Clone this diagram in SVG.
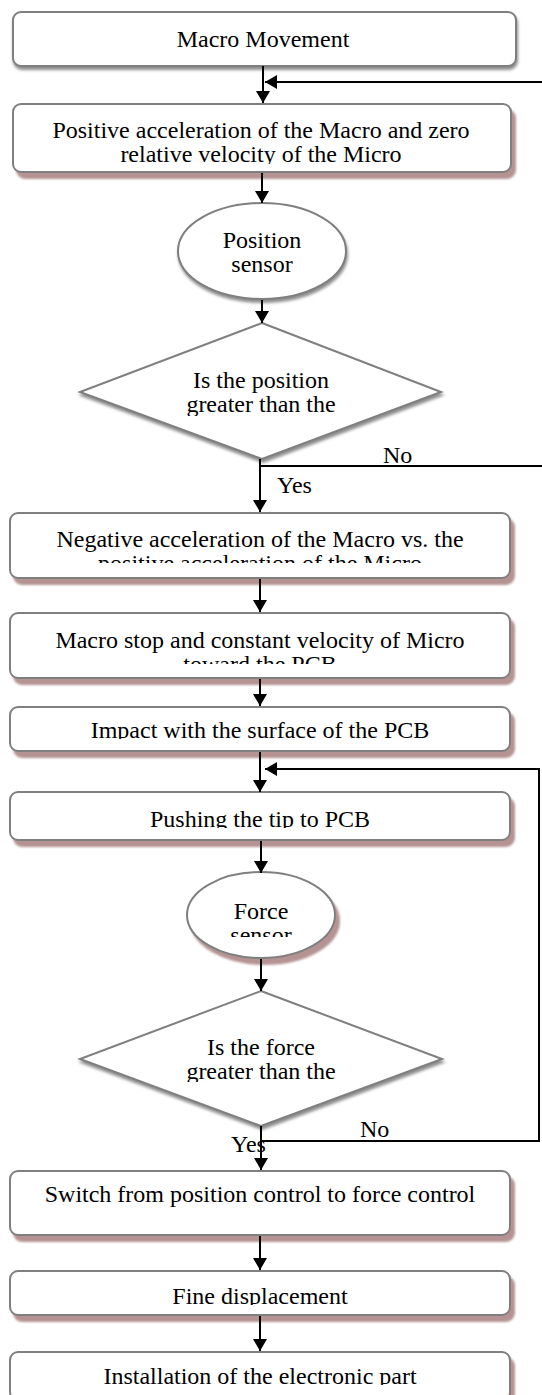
<svg xmlns="http://www.w3.org/2000/svg" width="542" height="1395" viewBox="0 0 542 1395">
<style>
.box{fill:#fff;stroke:#7f7f7f;stroke-width:2}
.t{font-family:"Liberation Serif","Times New Roman",serif;font-size:24px;fill:#000;text-anchor:middle}
.lbl{font-family:"Liberation Serif","Times New Roman",serif;font-size:24px;fill:#000}
.c{fill:none;stroke:#000;stroke-width:2}
</style>
<defs>
<filter id="sg" x="-10%" y="-20%" width="125%" height="150%">
<feDropShadow dx="1" dy="3" stdDeviation="1.5" flood-color="#808080" flood-opacity="0.9"/>
</filter>
<filter id="sr" x="-10%" y="-20%" width="125%" height="150%">
<feDropShadow dx="4" dy="6" stdDeviation="1" flood-color="#a88080" flood-opacity="0.85"/>
</filter>
<marker id="ah" markerUnits="userSpaceOnUse" markerWidth="13" markerHeight="14" refX="12" refY="7" orient="auto">
<path d="M0,0 L12,7 L0,14 z" fill="#000"/>
</marker>
<clipPath id="c2"><rect x="13" y="104" width="498" height="60"/></clipPath>
<clipPath id="c3"><rect x="10" y="513" width="500" height="50"/></clipPath>
<clipPath id="c4"><rect x="10" y="613" width="500" height="51"/></clipPath>
<clipPath id="c5"><rect x="10" y="707" width="500" height="32"/></clipPath>
<clipPath id="c6"><rect x="10" y="792" width="500" height="36"/></clipPath>
<clipPath id="ce2"><rect x="180" y="873" width="160" height="64"/></clipPath>
<clipPath id="cd1"><rect x="80" y="323" width="361" height="93"/></clipPath>
<clipPath id="cd2"><rect x="80" y="991" width="362" height="91"/></clipPath>
<clipPath id="c8"><rect x="10" y="1271" width="500" height="34"/></clipPath>
<clipPath id="c9"><rect x="10" y="1352" width="500" height="33"/></clipPath>
</defs>

<g id="n1">
<rect class="box" x="13" y="12" width="503" height="54" rx="8" filter="url(#sg)"/>
<text class="t" x="263" y="47">Macro Movement</text>
</g>
<g id="n2">
<rect class="box" x="13" y="104" width="498" height="68" rx="8" filter="url(#sr)"/>
<text class="t" clip-path="url(#c2)"><tspan x="261" y="138">Positive acceleration of the Macro and zero</tspan><tspan x="261" y="162">relative velocity of the Micro</tspan></text>
</g>
<g id="n3">
<ellipse class="box" cx="262" cy="251" rx="84" ry="48" filter="url(#sg)"/>
<text class="t"><tspan x="262" y="248">Position</tspan><tspan x="262" y="272">sensor</tspan></text>
</g>
<g id="n4">
<polygon class="box" points="262,323 441,392 262,459 80,392" filter="url(#sg)"/>
<text class="t" clip-path="url(#cd1)"><tspan x="261" y="388">Is the position</tspan><tspan x="261" y="412">greater than the</tspan></text>
</g>
<g id="n5">
<rect class="box" x="10" y="513" width="500" height="65" rx="8" filter="url(#sr)"/>
<text class="t" clip-path="url(#c3)"><tspan x="260" y="547">Negative acceleration of the Macro vs. the</tspan><tspan x="260" y="571">positive acceleration of the Micro</tspan></text>
</g>
<g id="n6">
<rect class="box" x="10" y="613" width="500" height="65" rx="8" filter="url(#sr)"/>
<text class="t" clip-path="url(#c4)"><tspan x="260" y="648">Macro stop and constant velocity of Micro</tspan><tspan x="260" y="672">toward the PCB</tspan></text>
</g>
<g id="n7">
<rect class="box" x="10" y="707" width="500" height="44" rx="8" filter="url(#sr)"/>
<text class="t" x="260" y="738" clip-path="url(#c5)">Impact with the surface of the PCB</text>
</g>
<g id="n8">
<rect class="box" x="10" y="792" width="500" height="48" rx="8" filter="url(#sr)"/>
<text class="t" x="260" y="827" clip-path="url(#c6)">Pushing the tip to PCB</text>
</g>
<g id="n9">
<ellipse class="box" cx="261" cy="915" rx="74" ry="43" filter="url(#sr)"/>
<text class="t" clip-path="url(#ce2)"><tspan x="261" y="919">Force</tspan><tspan x="261" y="943">sensor</tspan></text>
</g>
<g id="n10">
<polygon class="box" points="261,991 442,1059 261,1126 80,1059" filter="url(#sg)"/>
<text class="t" clip-path="url(#cd2)"><tspan x="261" y="1055">Is the force</tspan><tspan x="261" y="1079">greater than the</tspan></text>
</g>
<g id="n11">
<rect class="box" x="10" y="1171" width="500" height="64" rx="8" filter="url(#sr)"/>
<text class="t" x="260" y="1202">Switch from position control to force control</text>
</g>
<g id="n12">
<rect class="box" x="10" y="1271" width="500" height="44" rx="8" filter="url(#sr)"/>
<text class="t" x="260" y="1304" clip-path="url(#c8)">Fine displacement</text>
</g>
<g id="n13">
<rect class="box" x="10" y="1352" width="500" height="48" rx="8" filter="url(#sr)"/>
<text class="t" x="260" y="1384" clip-path="url(#c9)">Installation of the electronic part</text>
</g>

<g id="connectors">
<line class="c" x1="263" y1="66" x2="263" y2="103" marker-end="url(#ah)"/>
<line class="c" x1="542" y1="82" x2="265" y2="82" marker-end="url(#ah)"/>
<line class="c" x1="262" y1="173" x2="262" y2="203" marker-end="url(#ah)"/>
<line class="c" x1="262" y1="300" x2="262" y2="323" marker-end="url(#ah)"/>
<line class="c" x1="260" y1="459" x2="260" y2="512" marker-end="url(#ah)"/>
<line class="c" x1="260" y1="466" x2="542" y2="466"/>
<text class="lbl" x="383" y="463">No</text>
<text class="lbl" x="277" y="493">Yes</text>
<line class="c" x1="260" y1="579" x2="260" y2="612" marker-end="url(#ah)"/>
<line class="c" x1="260" y1="679" x2="260" y2="706" marker-end="url(#ah)"/>
<line class="c" x1="260" y1="752" x2="260" y2="792" marker-end="url(#ah)"/>
<line class="c" x1="261" y1="841" x2="261" y2="873" marker-end="url(#ah)"/>
<line class="c" x1="261" y1="959" x2="261" y2="991" marker-end="url(#ah)"/>
<line class="c" x1="261" y1="1126" x2="261" y2="1170" marker-end="url(#ah)"/>
<polyline class="c" points="261,1141 539,1141 539,769 265,769" marker-end="url(#ah)"/>
<text class="lbl" x="360" y="1137">No</text>
<text class="lbl" x="231" y="1152">Yes</text>
<line class="c" x1="260" y1="1236" x2="260" y2="1270" marker-end="url(#ah)"/>
<line class="c" x1="260" y1="1316" x2="260" y2="1351" marker-end="url(#ah)"/>
</g>
</svg>
